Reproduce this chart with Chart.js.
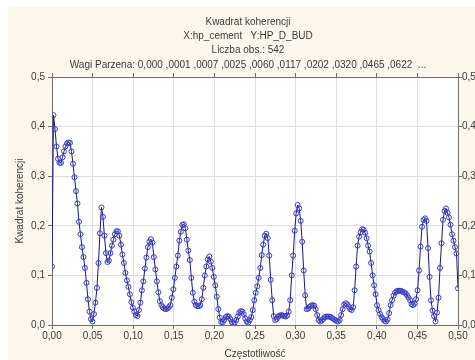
<!DOCTYPE html>
<html>
<head>
<meta charset="utf-8">
<script src="https://cdn.jsdelivr.net/npm/chart.js@4/dist/chart.umd.min.js"></script>
<style>
  html, body { margin: 0; padding: 0; background: #ffffff; }
  canvas { display: block; }
</style>
</head>
<body>
<canvas id="chart" width="475" height="360"></canvas>
<script>
// Kwadrat koherencji, 542 obserwacje -> 272 częstotliwości 0..0,5
const nObs = 542;

const titleLines = [
  "Kwadrat koherencji",
  "X:hp_cement   Y:HP_D_BUD",
  "Liczba obs.: 542",
  "Wagi Parzena: 0,000 ,0001 ,0007 ,0025 ,0060 ,0117 ,0202 ,0320 ,0465 ,0622  ..."
];

const xTickLabels = ["0,00", "0,05", "0,10", "0,15", "0,20", "0,25", "0,30", "0,35", "0,40", "0,45", "0,50"];
const yTickLabels = ["0,0", "0,1", "0,2", "0,3", "0,4", "0,5"];

const coherence = [
  0.118, 0.423, 0.395, 0.360, 0.335, 0.327, 0.327, 0.338, 0.350, 0.360,
  0.366, 0.368, 0.367, 0.350, 0.325, 0.298, 0.270, 0.245, 0.208, 0.183,
  0.157, 0.137, 0.115, 0.085, 0.052, 0.027, 0.012, 0.007, 0.022, 0.045,
  0.075, 0.125, 0.185, 0.237, 0.218, 0.180, 0.145, 0.127, 0.130, 0.145,
  0.160, 0.172, 0.183, 0.189, 0.189, 0.180, 0.162, 0.142, 0.125, 0.105,
  0.090, 0.077, 0.062, 0.046, 0.035, 0.027, 0.020, 0.018, 0.030, 0.045,
  0.070, 0.088, 0.114, 0.136, 0.157, 0.168, 0.173, 0.166, 0.137, 0.112,
  0.088, 0.066, 0.048, 0.040, 0.036, 0.033, 0.032, 0.033, 0.036, 0.040,
  0.055, 0.072, 0.095, 0.118, 0.140, 0.170, 0.188, 0.202, 0.203, 0.195,
  0.172, 0.150, 0.131, 0.095, 0.065, 0.047, 0.040, 0.038, 0.038, 0.040,
  0.052, 0.075, 0.100, 0.118, 0.132, 0.138, 0.128, 0.115, 0.097, 0.080,
  0.057, 0.032, 0.015, 0.006, 0.006, 0.010, 0.016, 0.018, 0.017, 0.012,
  0.006, 0.003, 0.005, 0.010, 0.017, 0.025, 0.028, 0.027, 0.022, 0.013,
  0.007, 0.005, 0.010, 0.016, 0.030, 0.050, 0.065, 0.078, 0.095, 0.115,
  0.141, 0.162, 0.180, 0.184, 0.175, 0.140, 0.091, 0.050, 0.018, 0.010,
  0.012, 0.017, 0.019, 0.020, 0.019, 0.018, 0.017, 0.019, 0.027, 0.050,
  0.100, 0.140, 0.190, 0.225, 0.242, 0.235, 0.210, 0.168, 0.110, 0.060,
  0.032, 0.033, 0.037, 0.039, 0.040, 0.039, 0.032, 0.020, 0.010, 0.007,
  0.009, 0.012, 0.016, 0.017, 0.017, 0.017, 0.016, 0.014, 0.012, 0.010,
  0.008, 0.007, 0.010, 0.020, 0.032, 0.041, 0.044, 0.042, 0.037, 0.032,
  0.030, 0.036, 0.070, 0.118, 0.160, 0.178, 0.187, 0.193, 0.192, 0.186,
  0.175, 0.160, 0.148, 0.125, 0.100, 0.080, 0.062, 0.040, 0.030, 0.022,
  0.016, 0.012, 0.008, 0.007, 0.011, 0.024, 0.040, 0.050, 0.059, 0.065,
  0.068, 0.069, 0.069, 0.069, 0.067, 0.066, 0.064, 0.060, 0.055, 0.050,
  0.042, 0.040, 0.043, 0.052, 0.070, 0.110, 0.158, 0.198, 0.212, 0.215,
  0.210, 0.155, 0.097, 0.050, 0.029, 0.018, 0.007, 0.025, 0.055, 0.115,
  0.165, 0.212, 0.230, 0.235, 0.226, 0.217, 0.202, 0.183, 0.170, 0.157,
  0.144, 0.074
];

// częstotliwości Fouriera i/N
const freq = coherence.map((_, i) => i / nObs);
const points = coherence.map((v, i) => ({ x: freq[i], y: v }));

const textColor = "#3a3a3a";
const axisColor = "#6e6e6e";
const gridColor = "#dedede";
const font = { family: "'Liberation Sans', Arial, sans-serif", size: 10 };

// tło panelu, białe pole wykresu i tytuł
const panelPlugin = {
  id: "panel",
  beforeDraw(chart) {
    const c = chart.ctx;
    const a = chart.chartArea;
    c.save();
    c.fillStyle = "#ffffff";
    c.fillRect(0, 0, chart.width, chart.height);
    c.fillStyle = "#fbf7ea";
    c.fillRect(8, 7, chart.width - 8, chart.height - 7);
    c.fillStyle = "#ffffff";
    c.fillRect(a.left, a.top, a.right - a.left, a.bottom - a.top);
    c.restore();
  },
  afterDraw(chart) {
    const c = chart.ctx;
    c.save();
    c.font = "10px 'Liberation Sans', Arial, sans-serif";
    c.fillStyle = textColor;
    c.textAlign = "center";
    c.textBaseline = "middle";
    titleLines.forEach((line, i) => {
      c.fillText(line, 248, 22 + i * 14.3);
    });
    c.restore();
  }
};

const ctx = document.getElementById("chart").getContext("2d");

new Chart(ctx, {
  type: "line",
  data: {
    datasets: [
      {
        data: points,
        borderColor: "#16168f",
        borderWidth: 1,
        tension: 0,
        fill: false,
        pointRadius: 2.5,
        pointBorderWidth: 1,
        pointBorderColor: "#3a3ac8",
        pointBackgroundColor: "rgba(255,255,255,0)",
      },
    ],
  },
  options: {
    responsive: false,
    animation: false,
    devicePixelRatio: 1,
    layout: { padding: { top: 77, left: 0, right: 0, bottom: 0 } },
    plugins: {
      legend: { display: false },
      tooltip: { enabled: false },
    },
    scales: {
      x: {
        type: "linear",
        position: "bottom",
        min: 0,
        max: 0.5,
        afterFit: (s) => { s.height = 35; },
        ticks: {
          stepSize: 0.05,
          autoSkip: false,
          maxRotation: 0,
          padding: 1,
          font: font,
          color: textColor,
          callback: (v, i) => xTickLabels[i],
        },
        grid: { color: gridColor, tickColor: axisColor, tickLength: 4 },
        border: { color: axisColor },
        title: {
          display: true,
          text: "Częstotliwość",
          font: font,
          color: textColor,
          padding: { top: 0, bottom: 0 },
        },
      },
      xTop: {
        type: "linear",
        position: "top",
        min: 0,
        max: 0.5,
        afterFit: (s) => { s.height = 0; },
        ticks: { stepSize: 0.05, display: false },
        grid: { drawOnChartArea: false, tickColor: axisColor, tickLength: 4 },
        border: { color: axisColor },
      },
      y: {
        position: "left",
        min: 0,
        max: 0.5,
        afterFit: (s) => { s.width = 52; },
        ticks: {
          stepSize: 0.1,
          padding: 3,
          font: font,
          color: textColor,
          callback: (v, i) => yTickLabels[i],
        },
        grid: { color: gridColor, tickColor: axisColor, tickLength: 4 },
        border: { color: axisColor },
        title: {
          display: true,
          text: "Kwadrat koherencji",
          font: font,
          color: textColor,
          padding: { top: 14, bottom: 0 },
        },
      },
      yRight: {
        position: "right",
        min: 0,
        max: 0.5,
        afterFit: (s) => { s.width = 17; },
        ticks: {
          stepSize: 0.1,
          padding: 0,
          font: font,
          color: textColor,
          callback: (v, i) => yTickLabels[i],
        },
        grid: { drawOnChartArea: false, tickColor: axisColor, tickLength: 4 },
        border: { color: axisColor },
      },
    },
  },
  plugins: [panelPlugin],
});
</script>
</body>
</html>
